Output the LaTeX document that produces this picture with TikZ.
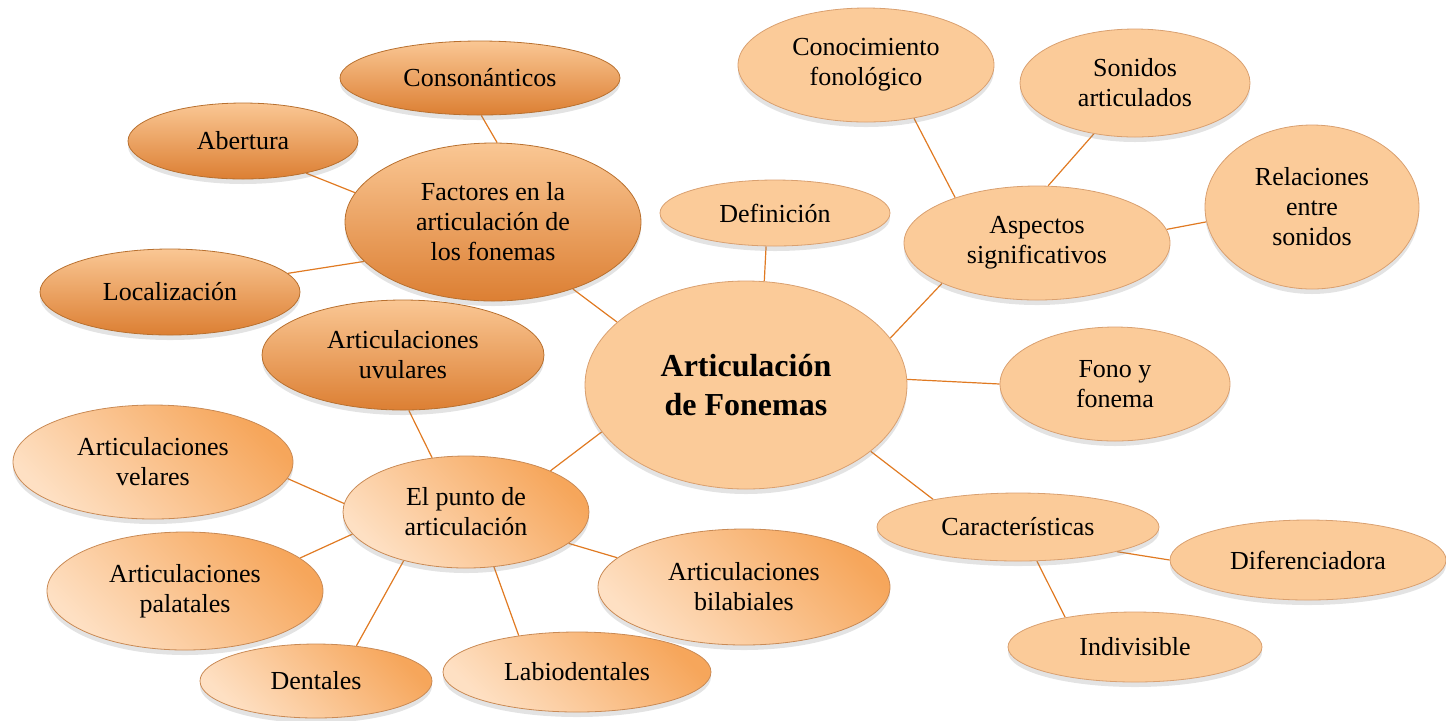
\documentclass[tikz,border=0pt]{standalone}
\usepackage{fontspec}
\setmainfont{Liberation Serif}
\usetikzlibrary{shapes.geometric,shadows,backgrounds}
\definecolor{lineor}{HTML}{E07A22}
\definecolor{flatfill}{HTML}{FBCB99}
\definecolor{flatdraw}{HTML}{D9A070}
\definecolor{darktop}{HTML}{FAC794}
\definecolor{darkmid}{HTML}{F2A45F}
\definecolor{darkbot}{HTML}{DC7F33}
\definecolor{darkdraw}{HTML}{B8702F}
\definecolor{lightor}{HTML}{F6A65B}
\definecolor{lightpale}{HTML}{FEE0C3}
\definecolor{lightdraw}{HTML}{C98A55}
\tikzset{
  ell/.style 2 args={ellipse, inner sep=0pt, minimum width=#1pt, minimum height=#2pt,
    align=center, font=\fontsize{13}{15}\selectfont,
    drop shadow={opacity=0.22, shadow xshift=0pt, shadow yshift=-2.5pt}},
  darkell/.style={top color=darktop, middle color=darkmid, bottom color=darkbot, draw=darkdraw, line width=0.4pt},
  flatell/.style={fill=flatfill, draw=flatdraw, line width=0.4pt},
  lightell/.style={shading=axis, top color=lightor, bottom color=lightpale, shading angle=-45, draw=lightdraw, line width=0.4pt},
  conn/.style={draw=lineor, line width=0.6pt}
}
\begin{document}
\begin{tikzpicture}[x=0.5pt, y=-0.5pt]
\useasboundingbox (0,0) rectangle (1446,720);
% dark nodes
\node[ell={140}{37}, darkell] (cons) at (480,78) {Consonánticos};
\node[ell={115}{38}, darkell] (abert) at (243,141) {Abertura};
\node[ell={148}{79}, darkell] (fact) at (493,222) {Factores en la\\articulación de\\los fonemas};
\node[ell={130}{43}, darkell] (loc) at (170,292) {Localización};
\node[ell={141}{55}, darkell] (uvu) at (403,355) {Articulaciones\\uvulares};
% flat nodes
\node[ell={115}{33}, flatell] (defi) at (775,213) {Definición};
\node[ell={128}{57}, flatell] (cono) at (866,65) {Conocimiento\\fonológico};
\node[ell={115}{54}, flatell] (soni) at (1135,83) {Sonidos\\articulados};
\node[ell={107}{82}, flatell] (rela) at (1312,207) {Relaciones\\entre\\sonidos};
\node[ell={133}{57}, flatell] (asp) at (1037,243) {Aspectos\\significativos};
\node[ell={161}{104}, flatell, font=\fontsize{16}{19.5}\selectfont\bfseries] (main) at (746,385) {Articulación\\de Fonemas};
\node[ell={115}{57}, flatell] (fono) at (1115,384) {Fono y\\fonema};
\node[ell={141}{34}, flatell] (cara) at (1018,527) {Características};
\node[ell={138}{40}, flatell] (dife) at (1308,560) {Diferenciadora};
\node[ell={127}{35}, flatell] (indi) at (1135,647) {Indivisible};
% light gradient nodes
\node[ell={140}{57}, lightell] (vel) at (153,462) {Articulaciones\\velares};
\node[ell={123}{56}, lightell] (pun) at (466,512) {El punto de\\articulación};
\node[ell={138}{59}, lightell] (pal) at (185,591) {Articulaciones\\palatales};
\node[ell={116}{37}, lightell] (den) at (316,681) {Dentales};
\node[ell={134}{40}, lightell] (lab) at (577,672) {Labiodentales};
\node[ell={146}{58}, lightell] (bil) at (744,587) {Articulaciones\\bilabiales};
% connectors
\begin{scope}[on background layer]
\draw[conn] (cons.-88) -- (fact.87);
\draw[conn] (abert.-27) -- (fact.168);
\draw[conn] (loc.9) -- (fact.-163);
\draw[conn] (fact.-40) -- (main.154);
\draw[conn] (defi.-105) -- (main.80);
\draw[conn] (cono.-48) -- (asp.151);
\draw[conn] (soni.-129) -- (asp.79);
\draw[conn] (rela.-172) -- (asp.6);
\draw[conn] (asp.-157) -- (main.18);
\draw[conn] (fono.180) -- (main.2);
\draw[conn] (cara.162) -- (main.-28);
\draw[conn] (cara.-14) -- (dife.180);
\draw[conn] (cara.-61) -- (indi.157);
\draw[conn] (uvu.-84) -- (pun.122);
\draw[conn] (pun.26) -- (main.-162);
\draw[conn] (vel.-7) -- (pun.176);
\draw[conn] (pal.16) -- (pun.-169);
\draw[conn] (den.41) -- (pun.-142);
\draw[conn] (lab.148) -- (pun.-63);
\draw[conn] (bil.167) -- (pun.-17);
\end{scope}
\end{tikzpicture}
\end{document}
